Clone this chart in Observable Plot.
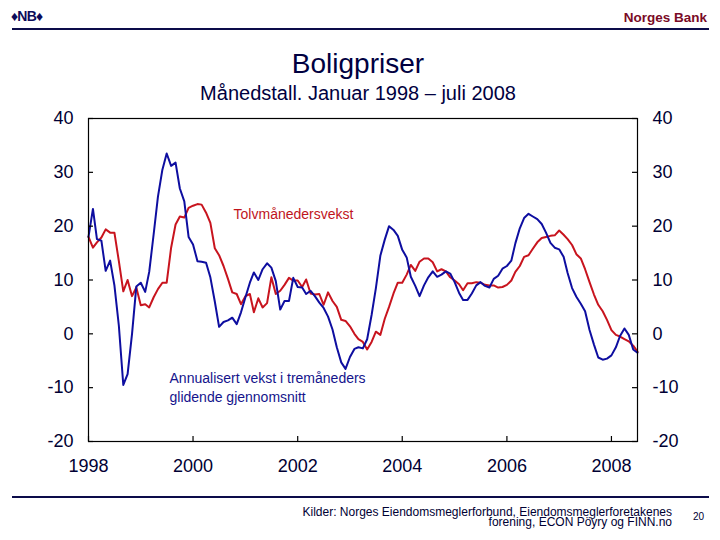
<!DOCTYPE html>
<html>
<head>
<meta charset="utf-8">
<script src="https://cdn.jsdelivr.net/npm/d3@7"></script>
<script src="https://cdn.jsdelivr.net/npm/@observablehq/plot@0.6"></script>
<style>
  html, body { margin: 0; padding: 0; background: #fff; }
  #page { position: relative; width: 720px; height: 540px; overflow: hidden; font-family: "Liberation Sans", Arial, sans-serif; background: #fff; }
  .abs { position: absolute; white-space: nowrap; line-height: 1; }
  #chart { position: absolute; left: 0; top: 0; }
</style>
</head>
<body>
<div id="page">
  <div id="chart"></div>
  <div class="abs" id="logo" style="left:11px; top:9px; font-size:14px; font-weight:bold; color:#0c0c5a; letter-spacing:-0.8px;">♦NB♦</div>
  <div class="abs" id="bank" style="right:13px; top:11px; font-size:13.5px; font-weight:bold; color:#7a0a26;">Norges Bank</div>
  <div class="abs" style="left:12px; top:28px; width:697px; height:2px; background:#0c0c4a;"></div>
  <div class="abs" id="title" style="left:0; width:716px; text-align:center; top:50px; font-size:28px; color:#000040;"></div>
  <div class="abs" id="subtitle" style="left:0; width:716px; text-align:center; top:83px; font-size:20px; color:#000040;"></div>
  <div class="abs" style="left:12px; top:496px; width:697px; height:2px; background:#0c0c4a;"></div>
  <div class="abs" id="source" style="right:48px; top:507px; font-size:12px; line-height:10px; text-align:right; color:#000033; white-space:pre;"></div>
  <div class="abs" id="pagenum" style="left:693px; top:512px; font-size:10px; color:#000033;">20</div>
</div>
<script>
// ---- Data ----
const startYear = 1998;               // first observation: January 1998
const seriesNames = ["Annualisert vekst i tremåneders glidende gjennomsnitt", "Tolvmånedersvekst"];
const threeMonthAnnualized = [
  18, 23.2, 17.6, 17.3, 11.7, 13.6, 9, 1.5, -9.5, -7.5,
  0, 8.8, 9.5, 7.8, 11.5, 18.5, 25.5, 30.5, 33.5, 31.2,
  31.8, 27, 24.6, 18, 16.6, 13.5, 13.4, 13.2, 10.5, 6,
  1.3, 2.2, 2.5, 3.0, 1.8, 4.0, 6.8, 9.5, 11.4, 10.0,
  12.0, 13.1, 12.3, 9.8, 4.5, 6.1, 6.1, 10.4, 8.7, 8.6,
  7.4, 8.0, 7.0, 5.8, 4.8, 3.2, 0.8, -2.5, -5.3, -6.5,
  -4.3, -2.8, -2.5, -2.7, -1.0, 3.5, 8.5, 14.5, 17.5, 20.0,
  19.3, 18.2, 15.6, 14.2, 10.6, 8.9, 7.0, 9.0, 10.5, 11.6,
  10.6, 11.0, 11.6, 11.2, 9.6, 7.6, 6.3, 6.3, 7.5, 9.0,
  9.6, 8.9, 8.6, 10.2, 10.8, 12.1, 12.6, 13.6, 16.8, 19.6,
  21.5, 22.3, 21.8, 21.3, 20.4, 18.8, 16.9, 16.0, 15.7, 14.3,
  11.3, 8.5, 6.9, 5.6, 4.2, 0.7, -2.0, -4.4, -4.8, -4.6,
  -4.0, -2.5, -0.4, 1.0, -0.2, -2.9, -3.5
];
const twelveMonth = [
  18, 16, 17, 17.9, 19.4, 18.8, 18.8, 13.5, 7.9, 10,
  7, 8.6, 5.3, 5.5, 4.9, 6.8, 8.3, 9.5, 9.5, 16,
  20.3, 21.8, 21.6, 23.4, 23.8, 24.1, 24, 22.5, 20.6, 15.9,
  14.6, 12.6, 10.2, 7.7, 7.4, 5.5, 7, 7.4, 4, 6.6,
  4.9, 5.7, 10.5, 7.4, 8, 9.1, 10.4, 9.9, 9.9, 8.7,
  10.1, 7.5, 7.3, 7.4, 5.4, 7.7, 6.1, 5, 2.6, 2.4,
  1.4, 0, -1, -1.5, -2.9, -1.5, 0.4, -0.2, 2.8, 5,
  7.5, 9.5, 9.5, 11, 12.8, 11.7, 13.4, 14, 14, 13.3,
  11.6, 12, 11.6, 10.5, 9.9, 9.2, 8.1, 9.4, 9.4, 9.6,
  9.5, 9.1, 9, 9, 8.6, 8.7, 9.1, 9.9, 11.5, 12.6,
  14.3, 14.6, 15.8, 17, 17.8, 18, 18.2, 18.3, 19.2, 18.4,
  17.6, 16.5, 14.8, 14, 12, 9.6, 7.3, 5.4, 4.2, 2.6,
  0.7, -0.2, -0.5, -1, -1.4, -2.2, -3.3
];
const yTicks = [-20, -10, 0, 10, 20, 30, 40];
const yearTicks = [1998, 2000, 2002, 2004, 2006, 2008];
const annotations = [
  {year: 2000, month: 9.3, value: 22.4, text: "Tolvmånedersvekst", series: 1},
  {year: 1999, month: 6.6, value: -9.8, text: "Annualisert vekst i tremåneders\nglidende gjennomsnitt", series: 0}
];
const titleText = "Boligpriser";
const subtitleText = "Månedstall. Januar 1998 – juli 2008";
const sourceText = "Kilder: Norges Eiendomsmeglerforbund, Eiendomsmeglerforetakenes\nforening, ECON Pöyry og FINN.no";

// ---- Styles ----
const navy = "#000033";
const lineColors = ["#0e0ea0", "#c8141e"];
const textColors = ["#14148c", "#c0141c"];

document.getElementById("title").textContent = titleText;
document.getElementById("subtitle").textContent = subtitleText;
document.getElementById("source").textContent = sourceText;

const monthDate = (i) => new Date(Date.UTC(startYear, i, 1));
const rows = [];
[threeMonthAnnualized, twelveMonth].forEach((arr, s) => {
  arr.forEach((v, i) => rows.push({date: monthDate(i), value: v, series: seriesNames[s], s}));
});
const yearDates = yearTicks.map(y => new Date(Date.UTC(y, 0, 1)));
const annRows = annotations.map(a => ({
  date: new Date(Date.UTC(a.year, 0, 1) + a.month * 30.44 * 864e5),
  value: a.value, text: a.text, s: a.series
}));

const fmt = d => `${d}`;
const chart = Plot.plot({
  width: 720,
  height: 540,
  marginLeft: 88,
  marginRight: 83,
  marginTop: 118,
  marginBottom: 99,
  style: {fontFamily: "Liberation Sans, Arial, sans-serif", background: "transparent", overflow: "visible"},
  x: {type: "utc", domain: [monthDate(0), monthDate(threeMonthAnnualized.length - 1)]},
  y: {domain: [-20, 40]},
  marks: [
    Plot.line(rows.filter(d => d.s === 1), {x: "date", y: "value", stroke: lineColors[1], strokeWidth: 2}),
    Plot.line(rows.filter(d => d.s === 0), {x: "date", y: "value", stroke: lineColors[0], strokeWidth: 2}),
    Plot.frame({stroke: "black", strokeWidth: 1.2}),
    Plot.tickY(yTicks, {y: d => d, insetRight: 544, stroke: "black", strokeWidth: 1.2}),
    Plot.tickY(yTicks, {y: d => d, insetLeft: 544, stroke: "black", strokeWidth: 1.2}),
    Plot.tickX(yearDates, {x: d => d, insetTop: 318, stroke: "black", strokeWidth: 1.2}),
    Plot.axisY({anchor: "left", ticks: yTicks, tickSize: 0, tickPadding: 15, fontSize: 18, fill: navy, tickFormat: fmt, label: null}),
    Plot.axisY({anchor: "right", ticks: yTicks, tickSize: 0, tickPadding: 15, fontSize: 18, fill: navy, tickFormat: fmt, label: null}),
    Plot.axisX({ticks: yearDates, tickSize: 0, tickPadding: 18, fontSize: 18, fill: navy, tickFormat: d => d3.utcFormat("%Y")(d), label: null}),
    Plot.text(annRows, {x: "date", y: "value", text: "text", textAnchor: "start", lineAnchor: "middle", lineHeight: 1.3, fontSize: 14, fill: d => textColors[d.s]})
  ]
});
document.getElementById("chart").appendChild(chart);
</script>
</body>
</html>
